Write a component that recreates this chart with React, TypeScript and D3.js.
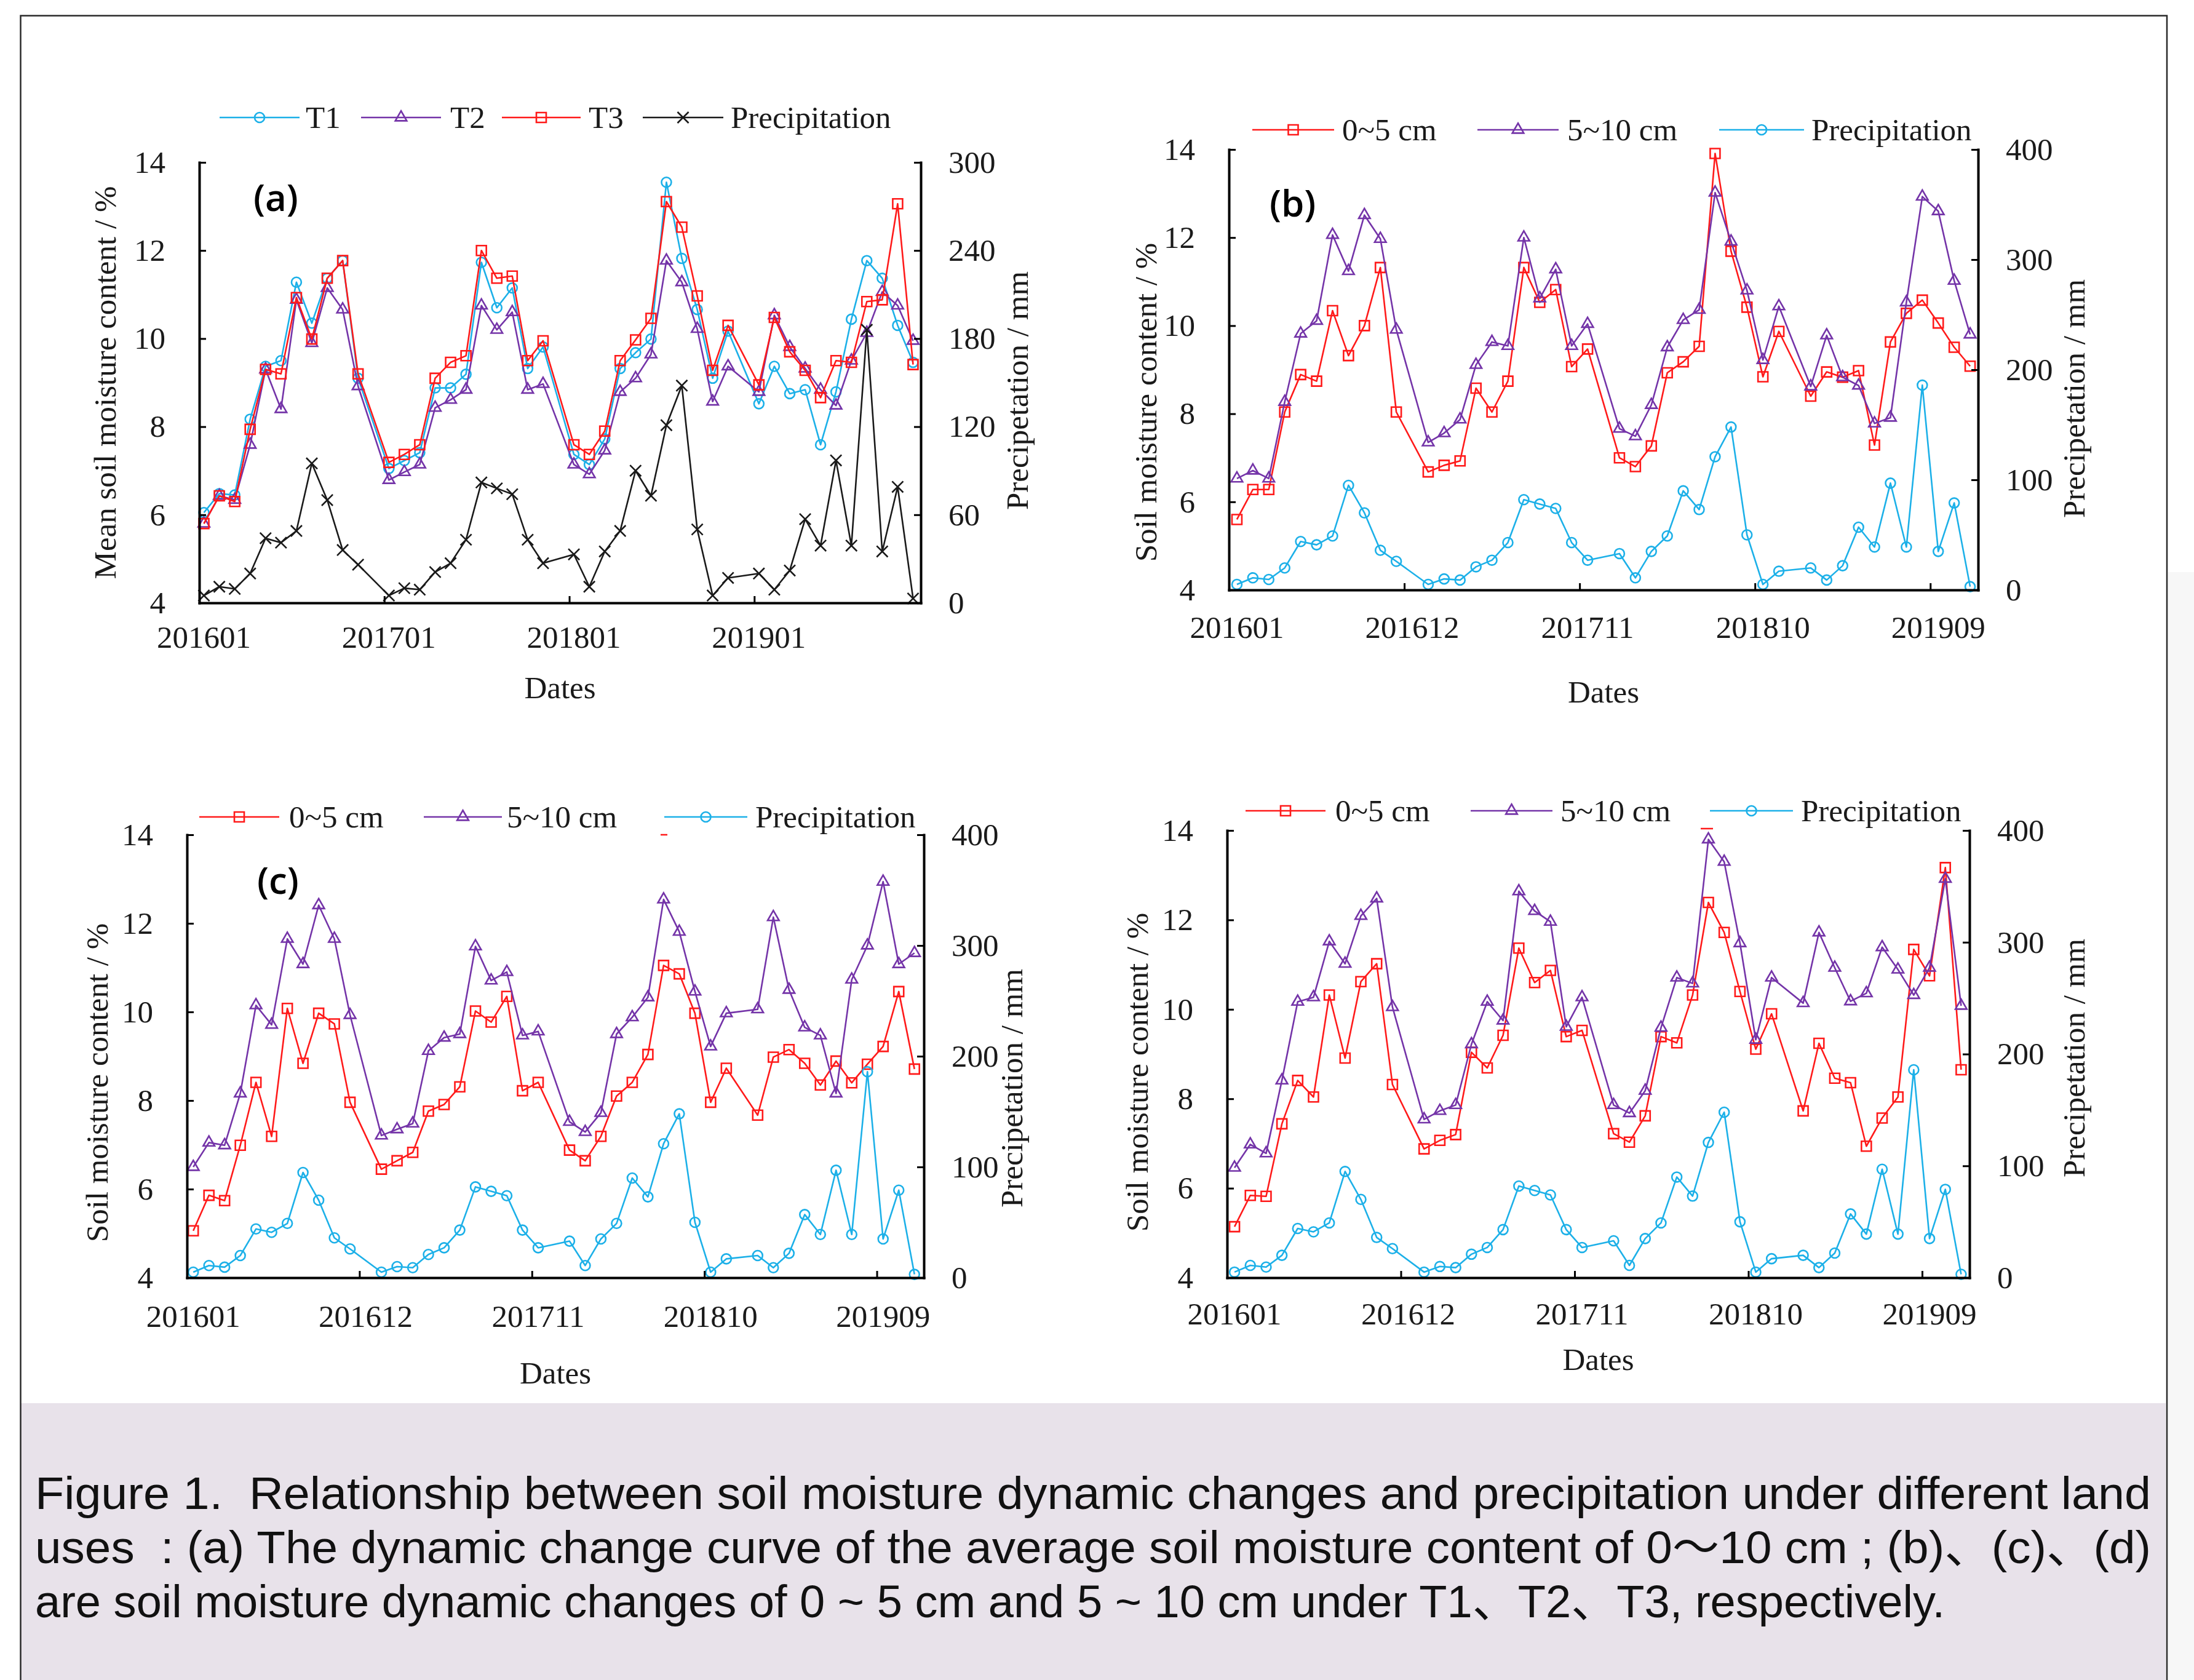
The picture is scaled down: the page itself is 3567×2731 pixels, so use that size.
import React, { useRef, useEffect } from 'react'
import * as d3 from 'd3'

// sampling months (no December samples)
const dates = [
    '201601', '201602', '201603', '201604', '201605', '201606', '201607', '201608', '201609', '201610', '201611',
    '201701', '201702', '201703', '201704', '201705', '201706', '201707', '201708', '201709', '201710', '201711',
    '201801', '201802', '201803', '201804', '201805', '201806', '201807', '201808', '201809', '201810', '201811',
    '201901', '201902', '201903', '201904', '201905', '201906', '201907', '201908', '201909', '201910', '201911',
]

// monthly precipitation, mm (same record in all four panels)
const precipitation = [
    5, 11, 9.5, 20, 44, 41, 49, 95, 70, 36, 26,
    5, 10, 9, 21, 27, 43, 82, 78, 74, 43, 27,
    33, 11, 35, 49, 90, 73, 121, 148, 50, 5, 17,
    20, 9, 22, 57, 39, 97, 39, 186, 35, 79, 3,
]

// (a) mean soil moisture 0~10 cm
const aT1 = [
    6.05, 6.48, 6.45, 8.17, 9.37, 9.5, 11.28, 10.35, 11.37, 11.77, 9.1,
    7.05, 7.23, 7.41, 8.88, 8.88, 9.19, 11.73, 10.7, 11.15, 9.32, 9.81,
    7.37, 7.14, 7.72, 9.32, 9.68, 9.99, 13.55, 11.82, 10.66, 9.1, 10.17,
    8.52, 9.37, 8.75, 8.84, 7.59, 8.79, 10.44, 11.77, 11.37, 10.3, 9.46,
]
const aT2 = [
    5.8, 6.43, 6.34, 7.59, 9.3, 8.4, 10.88, 9.9, 11.15, 10.66, 8.92,
    6.79, 6.97, 7.14, 8.43, 8.61, 8.84, 10.75, 10.2, 10.6, 8.84, 8.97,
    7.14, 6.92, 7.46, 8.79, 9.1, 9.64, 11.77, 11.28, 10.22, 8.57, 9.37,
    8.79, 10.53, 9.81, 9.32, 8.84, 8.48, 9.5, 10.13, 11.06, 10.75, 9.95,
]
const aT3 = [
    5.8, 6.43, 6.3, 7.94, 9.3, 9.2, 10.93, 9.99, 11.37, 11.77, 9.2,
    7.19, 7.37, 7.59, 9.1, 9.46, 9.61, 12.0, 11.37, 11.42, 9.5, 9.95,
    7.59, 7.37, 7.9, 9.5, 9.97, 10.46, 13.11, 12.53, 10.97, 9.28, 10.3,
    8.95, 10.48, 9.7, 9.28, 8.66, 9.5, 9.46, 10.84, 10.88, 13.06, 9.41,
]

// (b) T1 layers
const b05 = [
    5.6, 6.28, 6.28, 8.04, 8.89, 8.74, 10.34, 9.32, 10.0, 11.32, 8.04,
    6.68, 6.83, 6.93, 8.58, 8.04, 8.74, 11.32, 10.53, 10.82, 9.07, 9.47,
    7.0, 6.8, 7.27, 8.93, 9.18, 9.53, 13.91, 11.69, 10.42, 8.84, 9.87,
    8.4, 8.95, 8.83, 8.98, 7.29, 9.63, 10.28, 10.58, 10.06, 9.51, 9.08,
]
const b510 = [
    6.53, 6.71, 6.53, 8.27, 9.82, 10.11, 12.06, 11.24, 12.51, 11.97, 9.91,
    7.35, 7.56, 7.87, 9.11, 9.63, 9.54, 12.0, 10.62, 11.28, 9.54, 10.04,
    7.66, 7.49, 8.2, 9.51, 10.13, 10.36, 13.02, 11.91, 10.8, 9.22, 10.44,
    8.62, 9.78, 8.83, 8.64, 7.78, 7.91, 10.53, 12.93, 12.6, 11.02, 9.8,
]

// (c) T2 layers
const c05 = [
    5.06, 5.86, 5.74, 6.99, 8.41, 7.19, 10.08, 8.84, 9.97, 9.73, 7.96,
    6.45, 6.64, 6.83, 7.76, 7.91, 8.31, 10.02, 9.77, 10.35, 8.22, 8.41,
    6.88, 6.64, 7.19, 8.1, 8.41, 9.04, 11.05, 10.86, 9.97, 7.96, 8.73,
    7.67, 8.98, 9.15, 8.84, 8.35, 8.89, 8.4, 8.82, 9.22, 10.46, 8.71,
]
const c510 = [
    6.5, 7.05, 6.99, 8.16, 10.15, 9.71, 11.65, 11.08, 12.41, 11.65, 9.93,
    7.21, 7.35, 7.48, 9.12, 9.42, 9.5, 11.48, 10.71, 10.9, 9.47, 9.56,
    7.52, 7.29, 7.72, 9.5, 9.88, 10.33, 12.54, 11.81, 10.46, 9.22, 9.97,
    10.06, 12.14, 10.5, 9.65, 9.47, 8.16, 10.73, 11.5, 12.94, 11.08, 11.33,
]

// (d) T3 layers
const d05 = [
    5.14, 5.84, 5.82, 7.44, 8.41, 8.04, 10.32, 8.91, 10.62, 11.02, 8.32,
    6.88, 7.07, 7.2, 9.04, 8.69, 9.42, 11.37, 10.6, 10.87, 9.39, 9.53,
    7.22, 7.03, 7.62, 9.39, 9.25, 10.32, 12.39, 11.72, 10.4, 9.11, 9.9,
    7.73, 9.24, 8.46, 8.36, 6.94, 7.57, 8.04, 11.34, 10.75, 13.17, 8.65,
]
const d510 = [
    6.46, 6.98, 6.78, 8.41, 10.17, 10.27, 11.52, 11.02, 12.09, 12.48, 10.05,
    7.54, 7.73, 7.86, 9.22, 10.17, 9.75, 12.64, 12.2, 11.96, 9.61, 10.27,
    7.86, 7.68, 8.18, 9.59, 10.71, 10.58, 13.8, 13.3, 11.48, 9.32, 10.71,
    10.14, 11.72, 10.93, 10.18, 10.36, 11.39, 10.89, 10.32, 10.93, 12.92, 10.08,
]

const ticksA = ['201601', '201701', '201801', '201901']
const ticksBCD = ['201601', '201612', '201711', '201810', '201909']
const moistureTicks = [4, 6, 8, 10, 12, 14]
const precipTicksA = [0, 60, 120, 180, 240, 300]
const precipTicksBCD = [0, 100, 200, 300, 400]

const captionLines = [
    'Figure 1.  Relationship between soil moisture dynamic changes and precipitation under different land',
    'uses  : (a) The dynamic change curve of the average soil moisture content of 0～10 cm ; (b)、(c)、(d)',
    'are soil moisture dynamic changes of 0 ~ 5 cm and 5 ~ 10 cm under T1、T2、T3, respectively.',
]
// rendered width of each caption line in the source
const captionWidths = [3440, 3440, 3105]

const CYAN = '#1cb0e8'
const PURPLE = '#7434a8'
const RED = '#ff1a1a'
const BLACK = '#1a1a1a'
const SERIF = '"Liberation Serif", "Times New Roman", serif'

const monthIndex = (d) => (+d.slice(0, 4) - 2016) * 12 + (+d.slice(4) - 1)

const symbolOf = {
    circle: [d3.symbolCircle, 200],
    square: [d3.symbolSquare, 256],
    triangle: [d3.symbolTriangle, 150],
    x: [d3.symbolX, 215],
}

const panels = [
    {
        left: 324, right: 1497, top: 264, bottom: 980, xMax: 46.8, offset: 0.3,
        pMax: 300, pTicks: precipTicksA, ticks: ticksA,
        yTitle: 'Mean soil moisture content / %', yTitleX: 171, yTitleY: 622,
        pTitleX: 1654, pTitleY: 635, tickBase: 1053, datesBase: 1135,
        tag: '(a)', tagX: 412, tagY: 343,
        series: [
            { name: 'T1', values: aT1, color: CYAN, marker: 'circle' },
            { name: 'T2', values: aT2, color: PURPLE, marker: 'triangle' },
            { name: 'T3', values: aT3, color: RED, marker: 'square' },
            { name: 'Precipitation', values: precipitation, color: BLACK, marker: 'x', right: true },
        ],
        legendY: 191,
        legend: [[357, 487, 497], [587, 717, 732], [816, 944, 957], [1045, 1176, 1188]],
    },
    {
        left: 1998, right: 3216, top: 243, bottom: 959, xMax: 47, offset: 0.5,
        pMax: 400, pTicks: precipTicksBCD, ticks: ticksBCD,
        yTitle: 'Soil moisture content / %', yTitleX: 1863, yTitleY: 654,
        pTitleX: 3372, pTitleY: 648, tickBase: 1037, datesBase: 1142,
        tag: '(b)', tagX: 2064, tagY: 352,
        series: [
            { name: '0~5 cm', values: b05, color: RED, marker: 'square' },
            { name: '5~10 cm', values: b510, color: PURPLE, marker: 'triangle' },
            { name: 'Precipitation', values: precipitation, color: CYAN, marker: 'circle', right: true },
        ],
        legendY: 211,
        legend: [[2036, 2169, 2182], [2402, 2534, 2548], [2795, 2933, 2945]],
    },
    {
        left: 304, right: 1502, top: 1357, bottom: 2077, xMax: 47, offset: 0.4,
        pMax: 400, pTicks: precipTicksBCD, ticks: ticksBCD,
        yTitle: 'Soil moisture content / %', yTitleX: 158, yTitleY: 1760,
        pTitleX: 1645, pTitleY: 1769, tickBase: 2157, datesBase: 2249,
        tag: '(c)', tagX: 418, tagY: 1453,
        series: [
            { name: '0~5 cm', values: c05, color: RED, marker: 'square' },
            { name: '5~10 cm', values: c510, color: PURPLE, marker: 'triangle' },
            { name: 'Precipitation', values: precipitation, color: CYAN, marker: 'circle', right: true },
        ],
        legendY: 1328,
        legend: [[324, 454, 470], [689, 816, 824], [1080, 1215, 1228]],
        stray: [1074, 1085, 1357],
    },
    {
        left: 1995, right: 3202, top: 1350, bottom: 2077, xMax: 47, offset: 0.47,
        pMax: 400, pTicks: precipTicksBCD, ticks: ticksBCD,
        yTitle: 'Soil moisture content / %', yTitleX: 1849, yTitleY: 1743,
        pTitleX: 3372, pTitleY: 1720, tickBase: 2153, datesBase: 2227,
        tag: null,
        series: [
            { name: '0~5 cm', values: d05, color: RED, marker: 'square' },
            { name: '5~10 cm', values: d510, color: PURPLE, marker: 'triangle' },
            { name: 'Precipitation', values: precipitation, color: CYAN, marker: 'circle', right: true },
        ],
        legendY: 1318,
        legend: [[2025, 2155, 2171], [2391, 2524, 2537], [2780, 2915, 2928]],
        stray: [2765, 2785, 1347],
    },
]

function drawMarker(sel, marker, color) {
    const [type, size] = symbolOf[marker]
    sel.attr('d', d3.symbol(type, size)())
        .attr('fill', 'none')
        .attr('stroke', color)
        .attr('stroke-width', 2.6)
}

function drawPanel(root, p) {
    const g = root.append('g')
    const x = d3.scaleLinear().domain([0, p.xMax]).range([p.left, p.right])
    const y = d3.scaleLinear().domain([4, 14]).range([p.bottom, p.top])
    const y2 = d3.scaleLinear().domain([0, p.pMax]).range([p.bottom, p.top])
    const px = (d) => x(monthIndex(d) + p.offset)

    // series lines and markers
    p.series.forEach((s) => {
        const sy = s.right ? y2 : y
        const line = d3.line().x((v, i) => px(dates[i])).y((v) => sy(v))
        g.append('path')
            .attr('d', line(s.values))
            .attr('fill', 'none')
            .attr('stroke', s.color)
            .attr('stroke-width', 2.6)
            .attr('stroke-linejoin', 'round')
        g.append('g')
            .selectAll('path')
            .data(s.values)
            .join('path')
            .attr('transform', (v, i) => `translate(${px(dates[i])},${sy(v)})`)
            .call(drawMarker, s.marker, s.color)
    })

    const styleAxis = (ax) => {
        ax.attr('font-size', 51).attr('font-family', SERIF)
        ax.select('.domain').attr('stroke', '#000').attr('stroke-width', 4).attr('stroke-linecap', 'square')
        ax.selectAll('.tick line').attr('stroke', '#000').attr('stroke-width', 3)
        ax.selectAll('.tick text').attr('fill', '#1a1a1a')
    }

    // left axis
    g.append('g')
        .attr('transform', `translate(${p.left},0)`)
        .call(d3.axisLeft(y).tickValues(moistureTicks).tickSize(-11).tickSizeOuter(0).tickPadding(55))
        .call(styleAxis)

    // right axis
    g.append('g')
        .attr('transform', `translate(${p.right},0)`)
        .call(d3.axisRight(y2).tickValues(p.pTicks).tickSize(-11).tickSizeOuter(0).tickPadding(45))
        .call(styleAxis)

    // bottom axis, labels sit a little right of the tick (like the points)
    g.append('g')
        .attr('transform', `translate(0,${p.bottom})`)
        .call(d3.axisBottom(x).tickValues(p.ticks.map(monthIndex)).tickSize(-11).tickSizeOuter(0).tickFormat(() => ''))
        .call(styleAxis)

    g.append('g')
        .selectAll('text')
        .data(p.ticks)
        .join('text')
        .attr('x', (d) => px(d))
        .attr('y', p.tickBase)
        .attr('text-anchor', 'middle')
        .attr('font-family', SERIF)
        .attr('font-size', 51)
        .attr('fill', '#1a1a1a')
        .text((d) => d)

    // axis titles
    const title = (tx, ty, label, rotate) =>
        g.append('text')
            .attr('transform', `translate(${tx},${ty})` + (rotate ? ' rotate(-90)' : ''))
            .attr('text-anchor', 'middle')
            .attr('dominant-baseline', rotate ? 'central' : 'auto')
            .attr('font-family', SERIF)
            .attr('font-size', 51)
            .attr('fill', '#1a1a1a')
            .text(label)

    title(p.yTitleX, p.yTitleY, p.yTitle, true)
    title(p.pTitleX, p.pTitleY, 'Precipetation / mm', true)
    title((p.left + p.right) / 2, p.datesBase, 'Dates', false)

    // panel tag
    if (p.tag) {
        g.append('text')
            .attr('x', p.tagX)
            .attr('y', p.tagY)
            .attr('font-family', '"Open Sans", "Noto Sans", sans-serif')
            .attr('font-weight', 600)
            .attr('font-size', 60)
            .attr('fill', '#000')
            .text(p.tag)
    }

    // legend
    const lg = g.append('g')
    p.series.forEach((s, i) => {
        const [x0, x1, tx] = p.legend[i]
        lg.append('line')
            .attr('x1', x0).attr('x2', x1)
            .attr('y1', p.legendY).attr('y2', p.legendY)
            .attr('stroke', s.color).attr('stroke-width', 2.6)
        lg.append('path')
            .attr('transform', `translate(${(x0 + x1) / 2},${p.legendY})`)
            .call(drawMarker, s.marker, s.color)
        lg.append('text')
            .attr('x', tx)
            .attr('y', p.legendY)
            .attr('dy', '0.33em')
            .attr('font-family', SERIF)
            .attr('font-size', 51)
            .attr('fill', '#1a1a1a')
            .text(s.name)
    })

    // small red remnant under the legend in the source figure
    if (p.stray) {
        lg.append('line')
            .attr('x1', p.stray[0]).attr('x2', p.stray[1])
            .attr('y1', p.stray[2]).attr('y2', p.stray[2])
            .attr('stroke', RED).attr('stroke-width', 2.5)
    }
}

export default function App() {
    const ref = useRef(null)

    useEffect(() => {
        const svg = d3.select(ref.current)
        svg.selectAll('*').remove()

        // page, frame and caption band
        svg.append('rect').attr('width', 3567).attr('height', 2731).attr('fill', '#fff')
        svg.append('rect').attr('x', 3525).attr('y', 930).attr('width', 42).attr('height', 1801).attr('fill', '#f7f7f7')
        svg.append('rect').attr('x', 34).attr('y', 2281).attr('width', 3487).attr('height', 450).attr('fill', '#e8e2ea')
        svg.append('path')
            .attr('d', 'M33.5,2731 V25.5 H3523 V2731')
            .attr('fill', 'none')
            .attr('stroke', '#2a2a2a')
            .attr('stroke-width', 2.5)

        panels.forEach((p) => drawPanel(svg, p))

        svg.append('g')
            .selectAll('text')
            .data(captionLines)
            .join('text')
            .attr('x', 57)
            .attr('y', (d, i) => 2453 + i * 88)
            .attr('textLength', (d, i) => captionWidths[i])
            .attr('lengthAdjust', 'spacingAndGlyphs')
            .attr('font-family', '"Liberation Sans", Arial, "Noto Sans CJK SC", sans-serif')
            .attr('font-size', 74)
            .attr('fill', '#111')
            .style('white-space', 'pre')
            .text((d) => d)
    }, [])

    return (
        <svg
            ref={ref}
            width={3567}
            height={2731}
            style={{ position: 'absolute', left: 0, top: 0 }}
        />
    )
}
